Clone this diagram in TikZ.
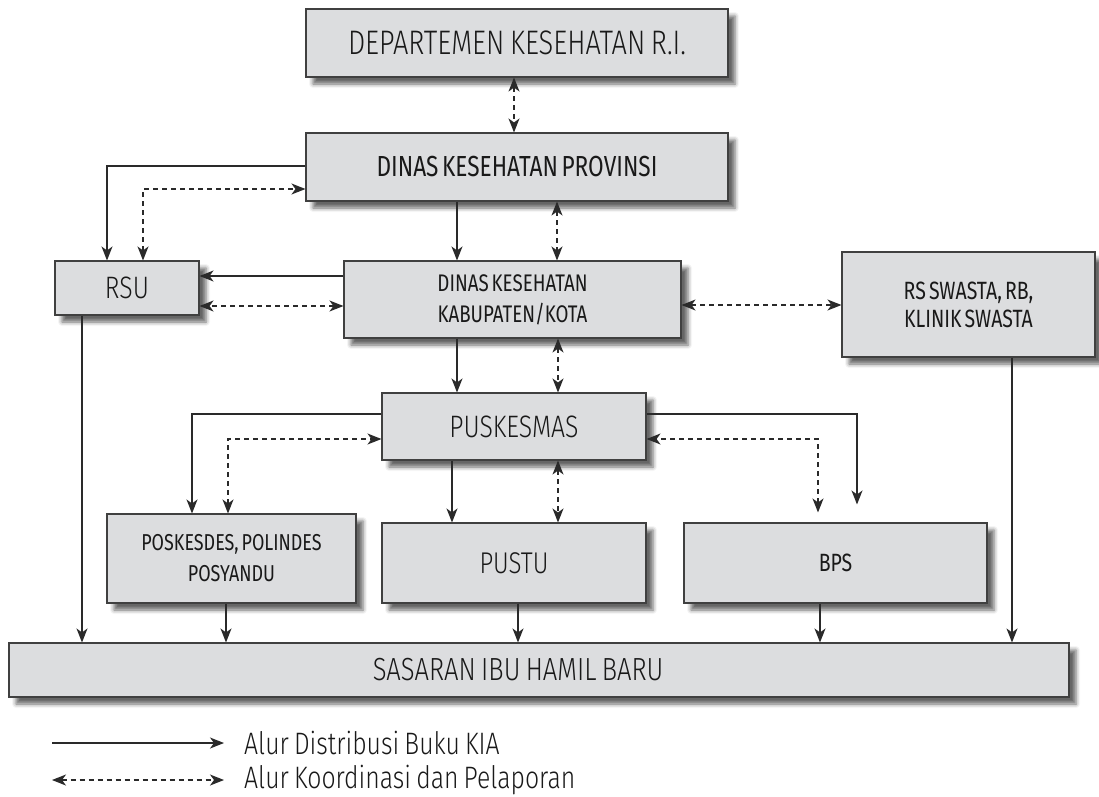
\documentclass[tikz,border=0pt]{standalone}
\usepackage{fontspec}
\setmainfont{Fira Sans Light}[FakeStretch=0.8, WordSpace=0.75]
\newfontfamily\condfont{Fira Sans}[FakeStretch=0.78, WordSpace=0.6]
\usepackage{tikz}
\usetikzlibrary{arrows.meta,positioning,shadows.blur}

\definecolor{boxfill}{HTML}{DCDDDF}
\definecolor{boxline}{HTML}{404040}
\definecolor{lineclr}{HTML}{2A2A2A}

\tikzset{
  box/.style = {draw=boxline, fill=boxfill, line width=1.1pt, inner sep=0pt,
    align=center, text=black!90,
    blur shadow={shadow xshift=7pt, shadow yshift=-7pt,
      shadow blur radius=4pt, shadow opacity=60}},
  tip/.tip = {Stealth[length=14pt, width=11pt, inset=4pt]},
  dist/.style = {-tip, draw=lineclr, line width=1.2pt},
  coord/.style = {tip-tip, draw=lineclr, line width=1.2pt,
    dash pattern=on 5pt off 4pt},
  legend/.style = {font=\fontsize{31}{34}\selectfont, text=black!90,
    inner sep=0pt, anchor=west}
}

\begin{document}
\begin{tikzpicture}[x=1pt, y=-1pt]
  \useasboundingbox (0,0) rectangle (1099,796);

  % boxes
  \node[box, minimum width=422pt, minimum height=68pt,
    font=\fontsize{34}{36}\selectfont] (dep) at (517,43)
    {DEPARTEMEN KESEHATAN R.I.};
  \node[box, minimum width=422pt, minimum height=68pt,
    font=\condfont\fontsize{29}{30}\selectfont] (prov) at (517,167)
    {DINAS KESEHATAN PROVINSI};
  \node[box, minimum width=144pt, minimum height=54pt,
    font=\fontsize{31}{32}\selectfont] (rsu) at (127,288) {RSU};
  \node[box, minimum width=337pt, minimum height=77pt,
    font=\condfont\fontsize{24}{31}\selectfont] (kab) at (512.5,299.5)
    {DINAS KESEHATAN\\KABUPATEN/KOTA};
  \node[box, minimum width=253pt, minimum height=105pt,
    font=\condfont\fontsize{25}{28}\selectfont] (swasta) at (968.5,304.5)
    {RS SWASTA, RB,\\KLINIK SWASTA};
  \node[box, minimum width=264pt, minimum height=67pt,
    font=\fontsize{31}{32}\selectfont] (pkm) at (514,426.5) {PUSKESMAS};
  \node[box, minimum width=249pt, minimum height=89pt,
    font=\condfont\fontsize{23}{31}\selectfont] (poskes) at (231.5,558.5)
    {POSKESDES, POLINDES\\POSYANDU};
  \node[box, minimum width=264pt, minimum height=80pt,
    font=\fontsize{30}{32}\selectfont] (pustu) at (514,563) {PUSTU};
  \node[box, minimum width=303pt, minimum height=80pt,
    font=\condfont\fontsize{25}{30}\selectfont] (bps) at (835.5,563) {BPS};
  \node[box, minimum width=1060pt, minimum height=54pt,
    font=\fontsize{32}{34}\selectfont] (sasaran) at (539,670)
    {\hspace*{-42pt}SASARAN IBU HAMIL BARU};

  % connectors from the top
  \draw[coord] ([xshift=-3pt]dep.south) -- ([xshift=-3pt]prov.north);
  \draw[dist] ([yshift=1pt]prov.west) -| ([xshift=-20pt]rsu.north);
  \draw[coord] ([xshift=16pt]rsu.north) |- ([yshift=-22pt]prov.west);
  \draw[dist] ([xshift=-60pt]prov.south) -- ([xshift=-60pt]prov.south |- kab.north);
  \draw[coord] ([xshift=40pt]prov.south) -- ([xshift=40pt]prov.south |- kab.north);

  % kabupaten level
  \draw[dist] ([yshift=23.5pt]kab.west) -- ([yshift=23.5pt]kab.west -| rsu.east);
  \draw[coord] ([yshift=-6.5pt]kab.west) -- ([yshift=-6.5pt]kab.west -| rsu.east);
  \draw[coord] ([yshift=-5.5pt]kab.east) -- ([yshift=-5.5pt]kab.east -| swasta.west);
  \draw[dist] ([xshift=-55.5pt]kab.south) -- ([xshift=-55.5pt]kab.south |- pkm.north);
  \draw[coord] ([xshift=45.5pt]kab.south) -- ([xshift=45.5pt]kab.south |- pkm.north);

  % puskesmas level
  \draw[dist] ([yshift=12.5pt]pkm.west) -| ([xshift=-39.5pt]poskes.north);
  \draw[coord] ([xshift=-3.5pt]poskes.north) |- ([yshift=-12.5pt]pkm.west);
  \draw[dist] ([xshift=-62pt]pkm.south) -- ([xshift=-62pt]pkm.south |- pustu.north);
  \draw[coord] ([xshift=44pt]pkm.south) -- ([xshift=44pt]pkm.south |- pustu.north);
  \draw[dist, shorten >=18pt] ([yshift=12.5pt]pkm.east) -| ([xshift=21.5pt]bps.north);
  \draw[coord, shorten <=10pt] ([xshift=-17.5pt]bps.north) |- ([yshift=-12.5pt]pkm.east);

  % down to sasaran
  \draw[dist] ([xshift=-45pt]rsu.south) -- ([xshift=-45pt]rsu.south |- sasaran.north);
  \draw[dist] ([xshift=-5.5pt]poskes.south) -- ([xshift=-5.5pt]poskes.south |- sasaran.north);
  \draw[dist] ([xshift=4pt]pustu.south) -- ([xshift=4pt]pustu.south |- sasaran.north);
  \draw[dist] ([xshift=-15.5pt]bps.south) -- ([xshift=-15.5pt]bps.south |- sasaran.north);
  \draw[dist] ([xshift=43.5pt]swasta.south) -- ([xshift=43.5pt]swasta.south |- sasaran.north);

  % legend
  \coordinate (d1) at (52,743);
  \coordinate (d2) at (224,743);
  \coordinate (k1) at (52,780);
  \coordinate (k2) at (224,780);
  \draw[dist] (d1) -- (d2);
  \draw[coord] (k1) -- (k2);
  \node[legend, right=20pt of d2] (ldist) {Alur Distribusi Buku KIA};
  \node[legend, right=20pt of k2] (lkoord) {Alur Koordinasi dan Pelaporan};
\end{tikzpicture}
\end{document}
